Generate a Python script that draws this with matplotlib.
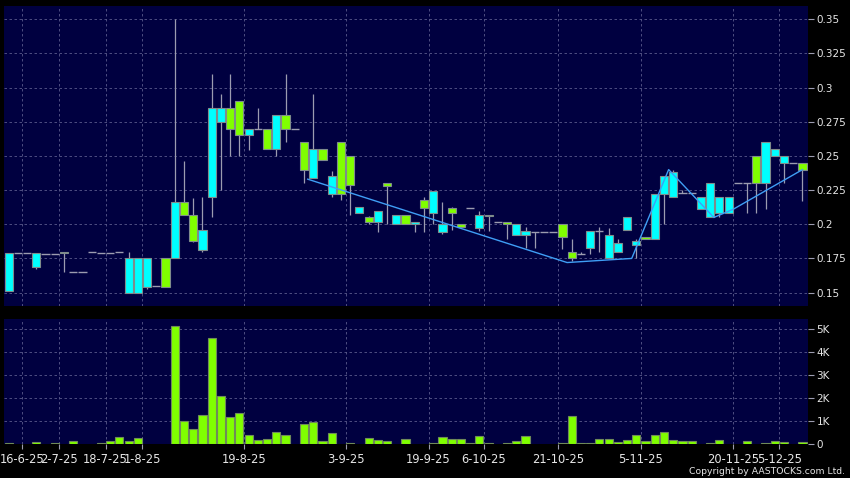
import numpy as np
import matplotlib
matplotlib.use("Agg")
import matplotlib.pyplot as plt

# daily candles (only days shown on the chart)
opens = [0.151, 0.179, 0.179, 0.169, 0.178, 0.178, 0.180, 0.165, 0.165, 0.180,
         0.179, 0.179, 0.180, 0.150, 0.150, 0.154, 0.155, 0.175, 0.175, 0.216,
         0.207, 0.181, 0.220, 0.275, 0.285, 0.290, 0.265, 0.270, 0.270, 0.255,
         0.280, 0.270, 0.260, 0.234, 0.255, 0.222, 0.260, 0.250, 0.208, 0.205,
         0.202, 0.230, 0.200, 0.207, 0.200, 0.218, 0.208, 0.194, 0.212, 0.200,
         0.212, 0.197, 0.207, 0.202, 0.202, 0.192, 0.192, 0.194, 0.194, 0.194,
         0.200, 0.180, 0.178, 0.183, 0.195, 0.175, 0.180, 0.196, 0.185, 0.191,
         0.189, 0.222, 0.220, 0.223, 0.223, 0.211, 0.205, 0.208, 0.208, 0.230,
         0.230, 0.250, 0.230, 0.250, 0.245, 0.245, 0.245]
highs = [0.179, 0.179, 0.179, 0.179, 0.178, 0.178, 0.180, 0.165, 0.165, 0.180,
         0.179, 0.179, 0.180, 0.180, 0.175, 0.175, 0.155, 0.175, 0.350, 0.246,
         0.219, 0.220, 0.310, 0.295, 0.310, 0.290, 0.270, 0.285, 0.270, 0.280,
         0.310, 0.270, 0.260, 0.295, 0.255, 0.239, 0.260, 0.250, 0.213, 0.206,
         0.210, 0.230, 0.207, 0.207, 0.202, 0.220, 0.224, 0.216, 0.213, 0.200,
         0.212, 0.210, 0.207, 0.202, 0.202, 0.200, 0.198, 0.194, 0.194, 0.194,
         0.200, 0.189, 0.180, 0.195, 0.198, 0.197, 0.189, 0.205, 0.189, 0.191,
         0.222, 0.235, 0.240, 0.225, 0.223, 0.220, 0.230, 0.220, 0.220, 0.230,
         0.230, 0.250, 0.260, 0.255, 0.250, 0.245, 0.245]
lows = [0.151, 0.179, 0.179, 0.167, 0.178, 0.178, 0.165, 0.165, 0.165, 0.180,
        0.179, 0.179, 0.180, 0.150, 0.150, 0.153, 0.155, 0.154, 0.175, 0.207,
        0.187, 0.180, 0.205, 0.225, 0.250, 0.250, 0.254, 0.270, 0.255, 0.250,
        0.260, 0.270, 0.230, 0.234, 0.247, 0.220, 0.218, 0.207, 0.208, 0.200,
        0.194, 0.200, 0.200, 0.200, 0.194, 0.194, 0.200, 0.193, 0.196, 0.198,
        0.212, 0.195, 0.195, 0.202, 0.189, 0.192, 0.183, 0.183, 0.194, 0.194,
        0.182, 0.173, 0.178, 0.178, 0.180, 0.175, 0.180, 0.196, 0.175, 0.189,
        0.189, 0.200, 0.220, 0.223, 0.223, 0.211, 0.205, 0.205, 0.208, 0.230,
        0.208, 0.208, 0.211, 0.250, 0.230, 0.245, 0.217]
closes = [0.179, 0.179, 0.179, 0.179, 0.178, 0.178, 0.179, 0.165, 0.165, 0.180,
          0.179, 0.179, 0.180, 0.175, 0.175, 0.175, 0.155, 0.154, 0.216, 0.207,
          0.188, 0.196, 0.285, 0.285, 0.270, 0.265, 0.270, 0.270, 0.255, 0.280,
          0.270, 0.270, 0.240, 0.255, 0.247, 0.235, 0.222, 0.229, 0.213, 0.202,
          0.210, 0.228, 0.207, 0.200, 0.202, 0.212, 0.224, 0.200, 0.208, 0.198,
          0.212, 0.207, 0.206, 0.202, 0.200, 0.200, 0.195, 0.194, 0.194, 0.194,
          0.191, 0.175, 0.178, 0.195, 0.195, 0.192, 0.186, 0.205, 0.188, 0.189,
          0.222, 0.235, 0.238, 0.223, 0.223, 0.220, 0.230, 0.220, 0.220, 0.230,
          0.230, 0.230, 0.260, 0.255, 0.250, 0.245, 0.240]
volumes = [40, 0, 0, 70, 0, 40, 0, 100, 0, 0,
           40, 100, 275, 100, 245, 0, 0, 0, 5140, 1000,
           650, 1230, 4620, 2090, 1140, 1350, 390, 145, 190, 490,
           350, 0, 840, 940, 100, 450, 0, 40, 0, 230,
           170, 130, 0, 190, 0, 0, 40, 300, 190, 200,
           40, 320, 40, 0, 10, 100, 320, 0, 0, 0,
           40, 1190, 40, 10, 190, 200, 70, 160, 360, 100,
           390, 490, 170, 90, 90, 0, 40, 170, 0, 0,
           100, 0, 40, 90, 60, 0, 70]

# overlay line (vertices: candle position, price)
line_pos = [32.4, 60.5, 67.5, 71.5, 76.4, 78.5, 86.0]
line_price = [0.233, 0.172, 0.175, 0.240, 0.205, 0.211, 0.240]

date_pos = [1.5, 5.5, 10.5, 14.5, 25.5, 36.5, 45.5, 51.5, 59.5, 68.5, 78.5, 83.5]
date_labels = ['16-6-25', '2-7-25', '18-7-25', '1-8-25', '19-8-25', '3-9-25',
               '19-9-25', '6-10-25', '21-10-25', '5-11-25', '20-11-25', '5-12-25']
price_ticks = [0.15, 0.175, 0.2, 0.225, 0.25, 0.275, 0.3, 0.325, 0.35]
price_labels = ['0.15', '0.175', '0.2', '0.225', '0.25', '0.275', '0.3', '0.325', '0.35']
vol_ticks = [0, 1000, 2000, 3000, 4000, 5000]
vol_labels = ['0', '1K', '2K', '3K', '4K', '5K']

BG = '#000040'
UP = '#00ffff'
DOWN = '#80ff00'
EDGE = '#7f8c8c'
WICK = '#9c9cb0'
GRID = '#5a5a8c'
TXT = '#e6e6e6'

o = np.array(opens)
h = np.array(highs)
l = np.array(lows)
c = np.array(closes)
v = np.array(volumes)
x = np.arange(len(o))

fig = plt.figure(figsize=(8.5, 4.78), dpi=100, facecolor='black')
ax = fig.add_axes([4 / 850, 1 - 306 / 478, 804.3 / 850, 300 / 478])
axv = fig.add_axes([4 / 850, 1 - 443.5 / 478, 804.3 / 850, 124.5 / 478])

for a in (ax, axv):
    a.set_facecolor(BG)
    for s in a.spines.values():
        s.set_visible(False)
    a.set_axisbelow(True)
    a.grid(True, color=GRID, linestyle=(0, (3, 3)), linewidth=0.6)
    a.set_xlim(-0.5, 86.63)
    a.set_xticks(date_pos)
    a.yaxis.tick_right()
    a.tick_params(axis='y', colors=WICK, labelcolor=TXT, length=4, width=0.8,
                  labelsize=7.5, pad=2)

# candles
ax.vlines(x, l, h, color=WICK, linewidth=0.9, zorder=2)
up = c > o
dn = c < o
flat = c == o
ax.bar(x[up], (c - o)[up], bottom=o[up], width=0.88, color=UP,
       edgecolor=EDGE, linewidth=0.8, zorder=3)
ax.bar(x[dn], (o - c)[dn], bottom=c[dn], width=0.88, color=DOWN,
       edgecolor=EDGE, linewidth=0.8, zorder=3)
ax.hlines(o[flat], x[flat] - 0.44, x[flat] + 0.44, color=WICK, linewidth=1.0, zorder=3)

ax.plot(line_pos, line_price, color='#3f9ef5', linewidth=1.0, zorder=4)

ax.set_ylim(0.1402, 0.3597)
ax.set_yticks(price_ticks)
ax.set_yticklabels(price_labels)
ax.tick_params(axis='x', bottom=False, labelbottom=False)

# volume
nz = v > 0
axv.bar(x[nz], v[nz], width=0.88, color=DOWN, edgecolor='#6f8a5a', linewidth=0.8, zorder=3)
axv.set_ylim(0, 5430)
axv.set_yticks(vol_ticks)
axv.set_yticklabels(vol_labels)
axv.set_xticklabels(date_labels)
axv.tick_params(axis='x', colors=WICK, labelcolor=TXT, length=3.5, width=0.8,
                labelsize=8.3, pad=3)

fig.text(845 / 850, 1 - 471 / 478, 'Copyright by AASTOCKS.com Ltd.', ha='right',
         va='center', color=TXT, fontsize=6.7)

fig.savefig('out.png', dpi=100, facecolor='black')
